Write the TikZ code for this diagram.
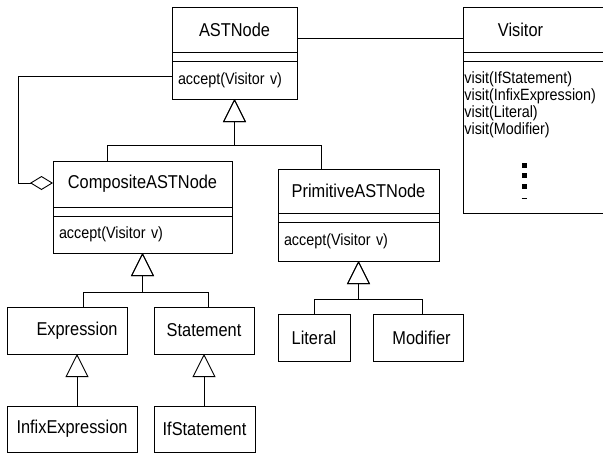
\documentclass[tikz,border=0pt]{standalone}
\usepackage{fontspec}
\setmainfont{Liberation Sans}[FakeStretch=0.88]
\usepackage{tikz}
\usetikzlibrary{positioning, fit, arrows.meta}

\newcommand{\namefont}{\fontsize{18.6}{20}\selectfont}
\newcommand{\opfont}{\fontsize{16.3}{17}\selectfont}

\begin{document}
\begin{tikzpicture}[
        x=1pt, y=-1pt,
        line width=0.9pt,
        classname/.style={draw, rectangle, inner sep=0pt, outer sep=0pt, minimum height=45pt, font=\namefont},
        classbody/.style={draw, rectangle, inner xsep=6pt, inner ysep=0pt, outer sep=0pt, align=left, font=\opfont},
        inherit/.style={-{Triangle[open, length=23pt, width=23pt]}},
        aggregate/.style={-{Diamond[open, length=23pt, width=14pt]}}
    ]

    \useasboundingbox (0,0) rectangle (603,456);

    \node[classname, minimum width=125pt, anchor=north west] (astnode) at (172,7) {ASTNode};
    \node[classbody, text width=113pt, minimum height=38pt, below=9pt of astnode] (astbody) {accept(Visitor v)};
    \node[draw, inner sep=0pt, fit=(astnode)(astbody)] (astframe) {};

    \node[classname, minimum width=160pt, anchor=north west] (visitor) at (463,7) {Visitor\hspace*{45pt}};
    \node[draw, inner sep=0pt, outer sep=0pt, minimum width=160pt, minimum height=152pt, below=9pt of visitor] (visitorbody) {};
    \node[draw, inner sep=0pt, fit=(visitor)(visitorbody)] (visitorframe) {};
    \node[font=\opfont, align=left, inner xsep=1pt, inner ysep=10pt, anchor=north west] (visitorops) at (visitorbody.north west)
        {visit(IfStatement)\\visit(InfixExpression)\\visit(Literal)\\visit(Modifier)};
    \foreach \y in {165,175,186}
        \fill (524,\y) +(-2.5,-2.5) rectangle +(2.5,2.5);
    \draw (521.5,198) -- (526.5,198);

    \node[classname, minimum width=179pt, minimum height=46pt, anchor=north west] (composite) at (53,161) {CompositeASTNode};
    \node[classbody, text width=167pt, minimum height=37pt, below=9pt of composite] (compbody) {accept(Visitor v)};
    \node[draw, inner sep=0pt, fit=(composite)(compbody)] (compframe) {};

    \node[classname, minimum width=161pt, minimum height=44pt, anchor=north west] (primitive) at (278,169) {PrimitiveASTNode};
    \node[classbody, text width=149pt, minimum height=39pt, below=9pt of primitive] (primbody) {accept(Visitor v)};
    \node[draw, inner sep=0pt, fit=(primitive)(primbody)] (primframe) {};

    \node[classname, minimum width=120pt, minimum height=47pt, anchor=north west] (expression) at (7,307) {\hspace*{20pt}Expression};
    \node[classname, minimum width=100pt, minimum height=47pt, right=27pt of expression] (statement) {Statement};
    \node[classname, minimum width=130pt, minimum height=46pt, below=52pt of expression.south west, anchor=north west] (infix) {InfixExpression};
    \node[classname, minimum width=101pt, minimum height=46pt, below=52pt of statement.south west, anchor=north west] (ifstatement) {IfStatement};

    \node[classname, minimum width=72pt, minimum height=47pt, below=53pt of primbody.south west, anchor=north west] (literal) {Literal};
    \node[classname, minimum width=90pt, minimum height=47pt, right=23pt of literal] (modifier) {\hspace*{7pt}Modifier};

    % association and aggregation
    \draw ([yshift=-8.5pt]astnode.east) -- ([yshift=-8.5pt]visitor.west);
    \draw[aggregate] ([yshift=4pt]astbody.west) -- ++(-154,0) |- ([yshift=1pt]composite.west);

    % generalisations
    \draw[inherit] ([xshift=-35.5pt]composite.north) |- ([yshift=-46pt]astbody.south) -- (astbody.south);
    \draw[inherit] ([xshift=-37.5pt]primitive.north) |- ([yshift=-46pt]astbody.south) -- (astbody.south);

    \draw[inherit] ([xshift=16pt]expression.north) |- ([yshift=-39pt]compbody.south) -- (compbody.south);
    \draw[inherit] ([xshift=4pt]statement.north) |- ([yshift=-39pt]compbody.south) -- (compbody.south);

    \draw[inherit] (literal.north) |- ([yshift=-38pt]primbody.south) -- (primbody.south);
    \draw[inherit] ([xshift=4pt]modifier.north) |- ([yshift=-38pt]primbody.south) -- (primbody.south);

    \draw[inherit] ([xshift=5pt]infix.north) -- ([xshift=10pt]expression.south);
    \draw[inherit] (ifstatement.north -| statement.south) -- (statement.south);

\end{tikzpicture}
\end{document}
